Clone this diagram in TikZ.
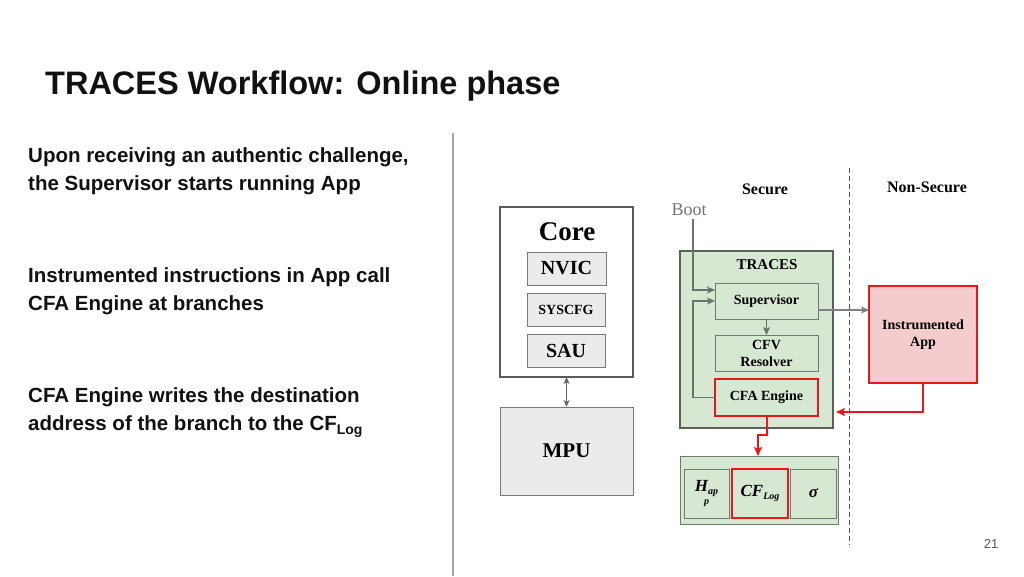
\documentclass[tikz,border=0pt]{standalone}
\usepackage{fontspec}
\setmainfont{Liberation Serif}
\newfontfamily\slidefont{Liberation Sans}
\usetikzlibrary{arrows.meta}
\definecolor{greenfill}{HTML}{D7E8D2}
\definecolor{tracesborder}{HTML}{5A6159}
\definecolor{innerborder}{HTML}{6F7A6E}
\definecolor{redline}{HTML}{E8171C}
\definecolor{pinkfill}{HTML}{F4CCCD}
\definecolor{grayfill}{HTML}{EBEBEB}
\definecolor{coreborder}{HTML}{595959}
\definecolor{arrowgray}{HTML}{6A7468}
\definecolor{sepgray}{HTML}{A6A6A6}
\definecolor{txt}{HTML}{111111}
\tikzset{
  box/.style={draw, inner sep=0pt, outer sep=0pt, align=center},
  corebox/.style={box, draw=coreborder, line width=2pt, fill=white},
  graybox/.style={box, draw=coreborder!80, line width=0.9pt, fill=grayfill, font=\bfseries\fontsize{20}{20}\selectfont},
  tracesbox/.style={box, draw=tracesborder, line width=2.2pt, fill=greenfill},
  greenbox/.style={box, draw=innerborder, line width=0.9pt, fill=greenfill, font=\bfseries\fontsize{14}{17}\selectfont},
  redbox/.style={box, draw=redline, line width=1.8pt},
  bullet/.style={anchor=base west, inner sep=0pt, text=txt, font=\slidefont\bfseries\fontsize{20.5}{24}\selectfont},
  grayarrow/.style={draw=arrowgray, line width=1.2pt, -{Stealth[length=8pt,width=7pt,inset=2pt]}},
  redarrow/.style={draw=redline, line width=2pt, -{Stealth[length=9pt,width=8pt,inset=2pt]}},
}
\begin{document}
\begin{tikzpicture}[x=1pt,y=-1pt]
\useasboundingbox[fill=white] (0,0) rectangle (1024,576);

% title and text
\node[anchor=base west, inner sep=0pt, text=txt, font=\slidefont\bfseries\fontsize{32.5}{36}\selectfont] (title) at (45,94) {TRACES Workflow: Online phase};
\node[bullet] (t1) at (28,162) {Upon receiving an authentic challenge,};
\node[bullet] (t2) at (28,190) {the Supervisor starts running App};
\node[bullet] (t3) at (28,282) {Instrumented instructions in App call};
\node[bullet] (t4) at (28,310) {CFA Engine at branches};
\node[bullet] (t5) at (28,402) {CFA Engine writes the destination};
\node[bullet] (t6) at (28,430) {address of the branch to the CF\raisebox{-4.5pt}{\fontsize{14}{14}\selectfont Log}};
\node[anchor=center, inner sep=0pt, text=black!65, font=\slidefont\fontsize{13}{13}\selectfont] (pnum) at (991,544) {21};

% separator
\coordinate (septop) at (453,133);
\coordinate (sepbot) at (453,576);
\draw[sepgray, line width=2pt] (septop) -- (sepbot);

% secure / non-secure
\coordinate (dtop) at (849,168);
\coordinate (dbot) at (849,545);
\draw[black!65, line width=1pt, dash pattern=on 5pt off 3pt] (dtop) -- (dbot);
\node[font=\bfseries\fontsize{16}{16}\selectfont] (secure) at (765,189) {Secure};
\node[font=\bfseries\fontsize{16}{16}\selectfont] (nonsecure) at (927,187) {Non-Secure};
\node[text=black!55, font=\fontsize{18}{18}\selectfont] (boot) at (689,210) {Boot};

% core and MPU
\node[corebox, minimum width=133pt, minimum height=170pt] (core) at (566.5,292) {};
\node[font=\bfseries\fontsize{27}{27}\selectfont] (corelabel) at (567,232) {Core};
\node[graybox, minimum width=79pt, minimum height=33pt] (nvic) at (566.5,268.5) {NVIC};
\node[graybox, minimum width=78pt, minimum height=33pt, font=\bfseries\fontsize{14}{14}\selectfont] (syscfg) at (566,309.5) {SYSCFG};
\node[graybox, minimum width=78pt, minimum height=33pt] (sau) at (566,350.5) {SAU};
\node[box, draw=coreborder!80, line width=0.9pt, fill=grayfill, minimum width=133pt, minimum height=88pt, font=\bfseries\fontsize{21}{21}\selectfont] (mpu) at (566.5,451) {MPU};
\draw[draw=black!60, line width=1.1pt, {Stealth[length=7pt,width=6pt,inset=2pt]}-{Stealth[length=7pt,width=6pt,inset=2pt]}] (core.south) -- (mpu.north);

% TRACES
\node[tracesbox, minimum width=153pt, minimum height=177pt] (traces) at (756.5,339.5) {};
\node[font=\bfseries\fontsize{15}{15}\selectfont] (traceslabel) at (767,265) {TRACES};
\node[greenbox, minimum width=103pt, minimum height=36pt] (sup) at (766.5,301) {Supervisor};
\node[greenbox, minimum width=103pt, minimum height=36pt] (cfv) at (766.5,353) {CFV\\Resolver};
\node[greenbox, redbox, fill=greenfill, minimum width=103pt, minimum height=37pt] (cfa) at (766.5,397.5) {CFA Engine};

% instrumented app
\node[box, draw=redline, line width=2pt, fill=pinkfill, minimum width=108pt, minimum height=97pt, font=\bfseries\fontsize{14}{17}\selectfont] (app) at (923,334.5) {Instrumented\\App};

% memory
\node[box, draw=innerborder, line width=1pt, fill=greenfill, minimum width=158pt, minimum height=68pt] (mem) at (759,490) {};
\node[greenbox, minimum width=45pt, minimum height=49pt, font=\bfseries\itshape\fontsize{17}{14}\selectfont] (happ) at (706.5,493.5) {H\raisebox{-3pt}{\fontsize{10}{10}\selectfont ap}\\[-1pt]{\fontsize{10}{10}\selectfont p}};
\node[greenbox, draw=redline, line width=2pt, minimum width=56pt, minimum height=49pt, font=\bfseries\itshape\fontsize{17}{17}\selectfont] (cflog) at (760,493.5) {CF\raisebox{-3pt}{\fontsize{10}{10}\selectfont Log}};
\node[greenbox, minimum width=46pt, minimum height=49pt, font=\bfseries\itshape\fontsize{17}{17}\selectfont] (sigma) at (813.5,493.5) {σ};

% connectors
\coordinate (bootpt) at (693,219);
\draw[grayarrow] (bootpt) |- ([yshift=11pt]sup.west);
\draw[grayarrow] (cfa.west) -- ++(-22,0) |- (sup.west);
\draw[grayarrow] (sup.south) -- (cfv.north);
\draw[grayarrow, draw=black!50] ([yshift=-9pt]sup.east) -- (app.west |- 0,310);
\coordinate (tin) at (836,412);
\draw[redarrow] (app.south) |- (tin);
\coordinate (memin) at (758,456);
\draw[redarrow] (cfa.south) -- ++(0,19) -| (memin);
\end{tikzpicture}
\end{document}
